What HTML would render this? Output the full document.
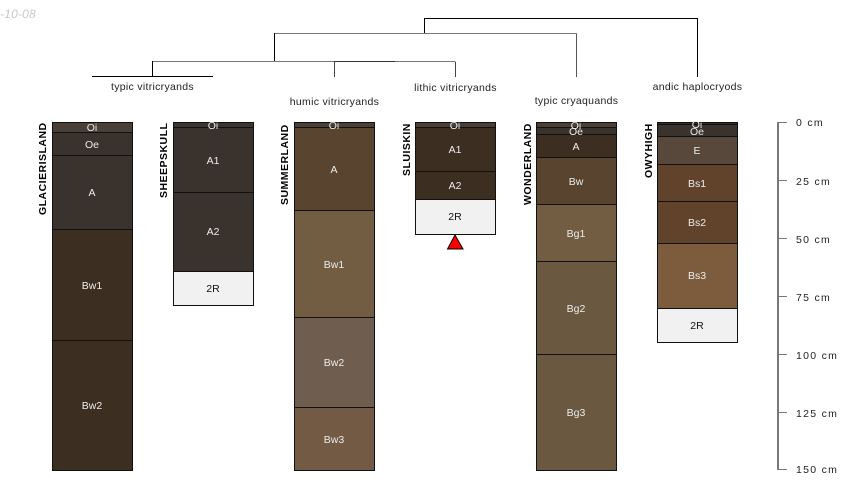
<!DOCTYPE html>
<html><head><meta charset="utf-8"><style>
html,body{margin:0;padding:0;background:#fff}
svg{display:block}
text{font-family:"Liberation Sans",Arial,sans-serif}
.h{font-size:10.5px;fill:#ececec;text-anchor:middle;dominant-baseline:central;transform:translateY(1px)}
.d{fill:#111}
.n{font-size:10.5px;font-weight:bold;fill:#000;letter-spacing:.48px}
.t{font-size:10.5px;fill:#222;text-anchor:middle;letter-spacing:.3px}
.s{font-size:10.5px;fill:#222;letter-spacing:1.3px}
rect{stroke:#111;stroke-width:1}
</style></head><body>
<svg width="850" height="500" viewBox="0 0 850 500" xmlns="http://www.w3.org/2000/svg" shape-rendering="crispEdges">
<text x="0" y="18" font-size="12" font-style="italic" fill="#c8c8c8" letter-spacing=".2">-10-08</text>
<g fill="none" stroke="#000">
<path d="M424.5 33V18.5H697.5V77"/>
<path d="M274.5 33.5H576.5" stroke="#777"/>
<path d="M274.5 33V61"/>
<path d="M424.5 33V18"/>
<path d="M576.5 33.5V77" stroke="#555"/>
<path d="M152.5 61.5H334" stroke="#777"/>
<path d="M92 76.5H213"/>
<path d="M152.5 61V76.5"/>
<path d="M334.5 62V77" stroke="#444"/>
<path d="M455.5 62V77" stroke="#444"/>
<path d="M334 61.5H395" stroke="#333"/>
<path d="M395 61.5H455.5" stroke="#777"/>
</g>
<text class="t" x="152.5" y="90">typic vitricryands</text>
<text class="t" x="334.5" y="105">humic vitricryands</text>
<text class="t" x="455.5" y="91">lithic vitricryands</text>
<text class="t" x="576.5" y="104">typic cryaquands</text>
<text class="t" x="697.5" y="90">andic haplocryods</text>

<g>
<rect x="52.5" y="122.5" width="80" height="10" fill="#4a3f37"/>
<rect x="52.5" y="132.5" width="80" height="23" fill="#39322d"/>
<rect x="52.5" y="155.5" width="80" height="74" fill="#39322d"/>
<rect x="52.5" y="229.5" width="80" height="111" fill="#3d2e22"/>
<rect x="52.5" y="340.5" width="80" height="130" fill="#3d2e22"/>
<text class="h" x="92" y="127">Oi</text><text class="h" x="92" y="144">Oe</text><text class="h" x="92" y="192">A</text><text class="h" x="92" y="285">Bw1</text><text class="h" x="92" y="405">Bw2</text>
<text class="n" transform="translate(46,215) rotate(-90)">GLACIERISLAND</text>

<rect x="173.5" y="122.5" width="80" height="5" fill="#3d352f"/>
<rect x="173.5" y="127.5" width="80" height="65" fill="#39322d"/>
<rect x="173.5" y="192.5" width="80" height="79" fill="#39322d"/>
<rect x="173.5" y="271.5" width="80" height="34" fill="#f1f1f1"/>
<text class="h" x="213" y="125">Oi</text><text class="h" x="213" y="160">A1</text><text class="h" x="213" y="231">A2</text><text class="h d" x="213" y="288">2R</text>
<text class="n" transform="translate(167,198) rotate(-90)">SHEEPSKULL</text>

<rect x="294.5" y="122.5" width="80" height="5" fill="#4a3f37"/>
<rect x="294.5" y="127.5" width="80" height="83" fill="#59452f"/>
<rect x="294.5" y="210.5" width="80" height="107" fill="#725c42"/>
<rect x="294.5" y="317.5" width="80" height="90" fill="#6f5e50"/>
<rect x="294.5" y="407.5" width="80" height="63" fill="#725a45"/>
<text class="h" x="334" y="125">Oi</text><text class="h" x="334" y="169">A</text><text class="h" x="334" y="264">Bw1</text><text class="h" x="334" y="362">Bw2</text><text class="h" x="334" y="439">Bw3</text>
<text class="n" transform="translate(288,205) rotate(-90)">SUMMERLAND</text>

<rect x="415.5" y="122.5" width="80" height="5" fill="#4a3f37"/>
<rect x="415.5" y="127.5" width="80" height="44" fill="#3d2e22"/>
<rect x="415.5" y="171.5" width="80" height="28" fill="#3d2e22"/>
<rect x="415.5" y="199.5" width="80" height="35" fill="#f1f1f1"/>
<text class="h" x="455" y="125">Oi</text><text class="h" x="455" y="149">A1</text><text class="h" x="455" y="185">A2</text><text class="h d" x="455" y="216">2R</text>
<text class="n" transform="translate(410,176) rotate(-90)">SLUISKIN</text>
<polygon points="455,235 447.5,249 463,249" fill="#f00" stroke="#000" shape-rendering="auto"/>

<rect x="536.5" y="122.5" width="80" height="5" fill="#4a3f37"/>
<rect x="536.5" y="127.5" width="80" height="7" fill="#39322d"/>
<rect x="536.5" y="134.5" width="80" height="23" fill="#3d2e22"/>
<rect x="536.5" y="157.5" width="80" height="47" fill="#59452f"/>
<rect x="536.5" y="204.5" width="80" height="57" fill="#725c42"/>
<rect x="536.5" y="261.5" width="80" height="93" fill="#6b5840"/>
<rect x="536.5" y="354.5" width="80" height="116" fill="#6b5840"/>
<text class="h" x="576" y="125">Oi</text><text class="h" x="576" y="131">Oe</text><text class="h" x="576" y="146">A</text><text class="h" x="576" y="181">Bw</text><text class="h" x="576" y="233">Bg1</text><text class="h" x="576" y="308">Bg2</text><text class="h" x="576" y="412">Bg3</text>
<text class="n" transform="translate(531,205) rotate(-90)">WONDERLAND</text>

<rect x="657.5" y="122.5" width="80" height="2" fill="#332c27"/>
<rect x="657.5" y="124.5" width="80" height="12" fill="#39322d"/>
<rect x="657.5" y="136.5" width="80" height="28" fill="#58483b"/>
<rect x="657.5" y="164.5" width="80" height="37" fill="#60432a"/>
<rect x="657.5" y="201.5" width="80" height="42" fill="#60432a"/>
<rect x="657.5" y="243.5" width="80" height="65" fill="#7d5c3d"/>
<rect x="657.5" y="308.5" width="80" height="34" fill="#f1f1f1"/>
<text class="h" x="697" y="124">Oi</text><text class="h" x="697" y="131">Oe</text><text class="h" x="697" y="150">E</text><text class="h" x="697" y="183">Bs1</text><text class="h" x="697" y="222">Bs2</text><text class="h" x="697" y="275">Bs3</text><text class="h d" x="697" y="325">2R</text>
<text class="n" transform="translate(652,178) rotate(-90)">OWYHIGH</text>
</g>

<g stroke="#777" fill="none">
<path d="M778 122V470" stroke-width="2"/>
<path d="M778 122.5H787M778 180.5H787M778 238.5H787M778 296.5H787M778 354.5H787M778 412.5H787M778 469.5H787"/>
</g>
<text class="s" x="796" y="126">0 cm</text>
<text class="s" x="796" y="185">25 cm</text>
<text class="s" x="796" y="243">50 cm</text>
<text class="s" x="796" y="301">75 cm</text>
<text class="s" x="796" y="359">100 cm</text>
<text class="s" x="796" y="417">125 cm</text>
<text class="s" x="796" y="473">150 cm</text>
</svg>
</body></html>
